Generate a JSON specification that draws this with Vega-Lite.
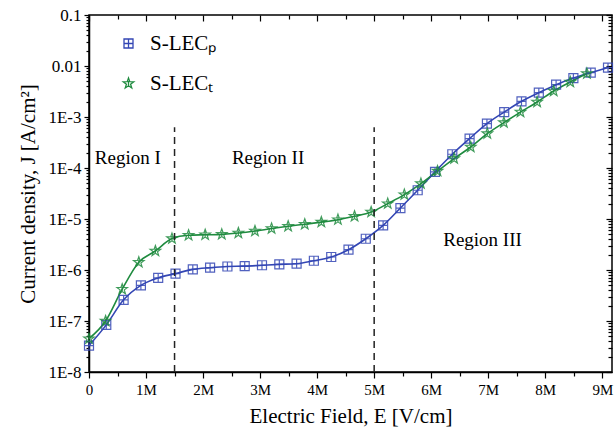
{
  "$schema": "https://vega.github.io/schema/vega-lite/v6.json",
  "width": 523,
  "height": 357,
  "autosize": {"type": "none"},
  "padding": {"left": 89, "top": 15, "right": 2, "bottom": 59},
  "background": "white",
  "config": {
    "font": "Liberation Serif",
    "view": {"stroke": "black", "strokeWidth": 1.5},
    "axis": {
      "grid": false,
      "domainColor": "black",
      "domainWidth": 1.5,
      "tickColor": "black",
      "tickWidth": 1.2,
      "labelColor": "black",
      "titleColor": "black",
      "labelFont": "Liberation Serif",
      "titleFont": "Liberation Serif",
      "labelFontSize": 15,
      "titleFontSize": 21,
      "titleFontWeight": "normal",
      "labelOverlap": false,
      "labelFlush": false
    }
  },
  "datasets": {
    "curves": [
      {"series": "S-LEC_P", "E": 0, "J": 3.3e-8},
      {"series": "S-LEC_P", "E": 303000, "J": 8.4e-8},
      {"series": "S-LEC_P", "E": 607000, "J": 2.6e-7},
      {"series": "S-LEC_P", "E": 910000, "J": 5.0e-7},
      {"series": "S-LEC_P", "E": 1213000, "J": 7.0e-7},
      {"series": "S-LEC_P", "E": 1517000, "J": 8.5e-7},
      {"series": "S-LEC_P", "E": 1820000, "J": 1.03e-6},
      {"series": "S-LEC_P", "E": 2123000, "J": 1.11e-6},
      {"series": "S-LEC_P", "E": 2427000, "J": 1.17e-6},
      {"series": "S-LEC_P", "E": 2730000, "J": 1.19e-6},
      {"series": "S-LEC_P", "E": 3033000, "J": 1.24e-6},
      {"series": "S-LEC_P", "E": 3337000, "J": 1.29e-6},
      {"series": "S-LEC_P", "E": 3640000, "J": 1.33e-6},
      {"series": "S-LEC_P", "E": 3943000, "J": 1.52e-6},
      {"series": "S-LEC_P", "E": 4247000, "J": 1.8e-6},
      {"series": "S-LEC_P", "E": 4550000, "J": 2.5e-6},
      {"series": "S-LEC_P", "E": 4853000, "J": 4.1e-6},
      {"series": "S-LEC_P", "E": 5157000, "J": 7.5e-6},
      {"series": "S-LEC_P", "E": 5460000, "J": 1.64e-5},
      {"series": "S-LEC_P", "E": 5763000, "J": 3.66e-5},
      {"series": "S-LEC_P", "E": 6067000, "J": 8.4e-5},
      {"series": "S-LEC_P", "E": 6370000, "J": 1.86e-4},
      {"series": "S-LEC_P", "E": 6673000, "J": 3.77e-4},
      {"series": "S-LEC_P", "E": 6977000, "J": 7.4e-4},
      {"series": "S-LEC_P", "E": 7280000, "J": 1.25e-3},
      {"series": "S-LEC_P", "E": 7583000, "J": 2.03e-3},
      {"series": "S-LEC_P", "E": 7887000, "J": 3.0e-3},
      {"series": "S-LEC_P", "E": 8190000, "J": 4.3e-3},
      {"series": "S-LEC_P", "E": 8493000, "J": 5.8e-3},
      {"series": "S-LEC_P", "E": 8797000, "J": 7.4e-3},
      {"series": "S-LEC_P", "E": 9100000, "J": 9.3e-3},
      {"series": "S-LEC_T", "E": 0, "J": 4.5e-8},
      {"series": "S-LEC_T", "E": 291000, "J": 1.0e-7},
      {"series": "S-LEC_T", "E": 582000, "J": 4.2e-7},
      {"series": "S-LEC_T", "E": 873000, "J": 1.42e-6},
      {"series": "S-LEC_T", "E": 1164000, "J": 2.36e-6},
      {"series": "S-LEC_T", "E": 1455000, "J": 4.13e-6},
      {"series": "S-LEC_T", "E": 1746000, "J": 4.8e-6},
      {"series": "S-LEC_T", "E": 2037000, "J": 4.9e-6},
      {"series": "S-LEC_T", "E": 2328000, "J": 5.0e-6},
      {"series": "S-LEC_T", "E": 2619000, "J": 5.3e-6},
      {"series": "S-LEC_T", "E": 2910000, "J": 5.8e-6},
      {"series": "S-LEC_T", "E": 3201000, "J": 6.5e-6},
      {"series": "S-LEC_T", "E": 3492000, "J": 7.2e-6},
      {"series": "S-LEC_T", "E": 3783000, "J": 7.9e-6},
      {"series": "S-LEC_T", "E": 4074000, "J": 8.7e-6},
      {"series": "S-LEC_T", "E": 4365000, "J": 9.7e-6},
      {"series": "S-LEC_T", "E": 4656000, "J": 1.13e-5},
      {"series": "S-LEC_T", "E": 4947000, "J": 1.37e-5},
      {"series": "S-LEC_T", "E": 5238000, "J": 2.0e-5},
      {"series": "S-LEC_T", "E": 5529000, "J": 3.0e-5},
      {"series": "S-LEC_T", "E": 5820000, "J": 4.94e-5},
      {"series": "S-LEC_T", "E": 6111000, "J": 8.7e-5},
      {"series": "S-LEC_T", "E": 6402000, "J": 1.53e-4},
      {"series": "S-LEC_T", "E": 6693000, "J": 2.58e-4},
      {"series": "S-LEC_T", "E": 6984000, "J": 4.73e-4},
      {"series": "S-LEC_T", "E": 7275000, "J": 7.77e-4},
      {"series": "S-LEC_T", "E": 7566000, "J": 1.25e-3},
      {"series": "S-LEC_T", "E": 7857000, "J": 1.97e-3},
      {"series": "S-LEC_T", "E": 8148000, "J": 3.24e-3},
      {"series": "S-LEC_T", "E": 8439000, "J": 4.85e-3},
      {"series": "S-LEC_T", "E": 8730000, "J": 7.1e-3}
    ],
    "bounds": [
      {"E": 1500000, "lo": 1e-8, "hi": 6.3e-4},
      {"E": 5000000, "lo": 1e-8, "hi": 6.3e-4}
    ],
    "regions": [
      {"label": "Region I", "E": 680000, "J": 1.6e-4},
      {"label": "Region II", "E": 3140000, "J": 1.6e-4},
      {"label": "Region III", "E": 6900000, "J": 3.8e-6}
    ]
  },
  "layer": [
    {
      "data": {"name": "curves"},
      "mark": {"type": "line", "interpolate": "monotone", "strokeWidth": 1.6},
      "encoding": {
        "x": {
          "field": "E", "type": "quantitative",
          "scale": {"domain": [0, 9170000], "nice": false, "zero": false},
          "axis": {
            "orient": "bottom",
            "title": "Electric Field, E [V/cm]",
            "titlePadding": 8,
            "labelPadding": 4,
            "values": [0, 500000, 1000000, 1500000, 2000000, 2500000, 3000000, 3500000, 4000000, 4500000, 5000000, 5500000, 6000000, 6500000, 7000000, 7500000, 8000000, 8500000, 9000000],
            "labelExpr": "datum.value % 1000000 == 0 ? (datum.value == 0 ? '0' : (datum.value / 1000000) + 'M') : ''",
            "tickSize": {"condition": {"test": "datum.value % 1000000 == 0", "value": 6}, "value": 4}
          }
        },
        "y": {
          "field": "J", "type": "quantitative",
          "scale": {"type": "log", "domain": [1e-8, 0.1], "nice": false},
          "axis": {
            "orient": "left",
            "title": "Current density, J [A/cm²]",
            "titlePadding": 9,
            "labelPadding": 3,
            "labelFontSize": 17,
            "values": [1e-8, 2e-8, 3e-8, 4e-8, 5e-8, 6e-8, 7e-8, 8e-8, 9e-8, 1e-7, 2e-7, 3e-7, 4e-7, 5e-7, 6e-7, 7e-7, 8e-7, 9e-7, 1e-6, 2e-6, 3e-6, 4e-6, 5e-6, 6e-6, 7e-6, 8e-6, 9e-6, 1e-5, 2e-5, 3e-5, 4e-5, 5e-5, 6e-5, 7e-5, 8e-5, 9e-5, 1e-4, 2e-4, 3e-4, 4e-4, 5e-4, 6e-4, 7e-4, 8e-4, 9e-4, 1e-3, 2e-3, 3e-3, 4e-3, 5e-3, 6e-3, 7e-3, 8e-3, 9e-3, 1e-2, 2e-2, 3e-2, 4e-2, 5e-2, 6e-2, 7e-2, 8e-2, 9e-2, 0.1],
            "labelExpr": "abs(log(datum.value)/LN10 - round(log(datum.value)/LN10)) < 0.001 ? (round(log(datum.value)/LN10) == -1 ? '0.1' : (round(log(datum.value)/LN10) == -2 ? '0.01' : '1E' + round(log(datum.value)/LN10))) : ''",
            "tickSize": {"condition": {"test": "abs(log(datum.value)/LN10 - round(log(datum.value)/LN10)) < 0.001", "value": 5}, "value": 3}
          }
        },
        "color": {
          "field": "series", "type": "nominal",
          "scale": {"domain": ["S-LEC_P", "S-LEC_T"], "range": ["#3346b4", "#1f8b3f"]},
          "legend": {
            "orient": "none",
            "legendX": 29,
            "legendY": 18,
            "title": null,
            "labelFont": "Liberation Serif",
            "labelFontSize": 21,
            "labelColor": "black",
            "labelOffset": 11,
            "rowPadding": 18,
            "symbolStrokeWidth": 1.3,
            "labelExpr": "datum.value == 'S-LEC_P' ? 'S-LECₚ' : 'S-LECₜ'"
          }
        }
      }
    },
    {
      "data": {"name": "curves"},
      "mark": {"type": "point", "filled": false, "strokeWidth": 1.2, "opacity": 0.85},
      "encoding": {
        "x": {"field": "E", "type": "quantitative", "axis": null},
        "y": {"field": "J", "type": "quantitative", "axis": null},
        "color": {"field": "series", "type": "nominal", "legend": null},
        "shape": {
          "field": "series", "type": "nominal", "legend": null,
          "scale": {"domain": ["S-LEC_P", "S-LEC_T"], "range": ["M-1,-1H1V1H-1Z M0,-1V1 M-1,0H1", "M0,-1L0.235,-0.324L0.951,-0.309L0.38,0.124L0.588,0.809L0,0.4L-0.588,0.809L-0.38,0.124L-0.951,-0.309L-0.235,-0.324Z M0,-0.45V0.4"]}
        },
        "size": {
          "field": "series", "type": "nominal", "legend": null,
          "scale": {"domain": ["S-LEC_P", "S-LEC_T"], "range": [81, 121]}
        }
      }
    },
    {
      "data": {"name": "bounds"},
      "mark": {"type": "rule", "color": "#222222", "strokeWidth": 1.5, "strokeDash": [7, 5]},
      "encoding": {
        "x": {
          "field": "E", "type": "quantitative",
          "axis": {
            "orient": "top", "title": null, "labels": false, "domain": false,
            "values": [0, 500000, 1000000, 1500000, 2000000, 2500000, 3000000, 3500000, 4000000, 4500000, 5000000, 5500000, 6000000, 6500000, 7000000, 7500000, 8000000, 8500000, 9000000],
            "tickSize": {"condition": {"test": "datum.value % 1000000 == 0", "value": -6}, "value": -4}
          }
        },
        "y": {
          "field": "lo", "type": "quantitative",
          "axis": {
            "orient": "right", "title": null, "labels": false, "domain": false,
            "values": [1e-8, 2e-8, 3e-8, 4e-8, 5e-8, 6e-8, 7e-8, 8e-8, 9e-8, 1e-7, 2e-7, 3e-7, 4e-7, 5e-7, 6e-7, 7e-7, 8e-7, 9e-7, 1e-6, 2e-6, 3e-6, 4e-6, 5e-6, 6e-6, 7e-6, 8e-6, 9e-6, 1e-5, 2e-5, 3e-5, 4e-5, 5e-5, 6e-5, 7e-5, 8e-5, 9e-5, 1e-4, 2e-4, 3e-4, 4e-4, 5e-4, 6e-4, 7e-4, 8e-4, 9e-4, 1e-3, 2e-3, 3e-3, 4e-3, 5e-3, 6e-3, 7e-3, 8e-3, 9e-3, 1e-2, 2e-2, 3e-2, 4e-2, 5e-2, 6e-2, 7e-2, 8e-2, 9e-2, 0.1],
            "tickSize": {"condition": {"test": "abs(log(datum.value)/LN10 - round(log(datum.value)/LN10)) < 0.001", "value": -6}, "value": -4}
          }
        },
        "y2": {"field": "hi"}
      }
    },
    {
      "data": {"name": "regions"},
      "mark": {"type": "text", "font": "Liberation Serif", "fontSize": 19, "color": "black", "align": "center", "baseline": "middle"},
      "encoding": {
        "x": {"field": "E", "type": "quantitative", "axis": null},
        "y": {"field": "J", "type": "quantitative", "axis": null},
        "text": {"field": "label", "type": "nominal"}
      }
    }
  ],
  "resolve": {"axis": {"x": "independent", "y": "independent"}}
}
